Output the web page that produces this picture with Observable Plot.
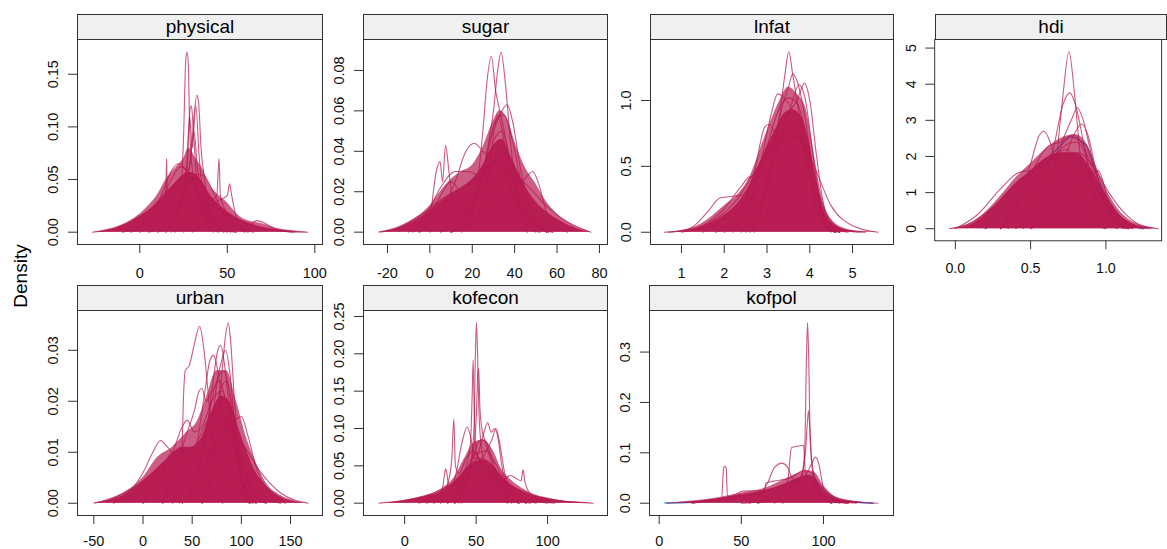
<!DOCTYPE html>
<html><head><meta charset="utf-8">
<script src="https://cdn.jsdelivr.net/npm/d3@7"></script>
<script src="https://cdn.jsdelivr.net/npm/@observablehq/plot@0.6"></script>
<style>
html,body{margin:0;padding:0;background:#fff}
body{overflow:hidden;width:1167px;height:549px;position:relative;font-family:"Liberation Sans",Arial,sans-serif}
.strip{position:absolute;box-sizing:border-box;border:1px solid #333;background:#f0f0f0;font-size:19px;text-align:center;color:#000;display:flex;align-items:center;justify-content:center}
.panel{position:absolute}
#ylab{position:absolute;font-size:19px;left:21px;top:276px;transform:translate(-50%,-50%) rotate(-90deg);white-space:nowrap;color:#000}
</style></head><body>
<div id="ylab">Density</div>
<script>
// ---------- data ----------
const panelNames = ["physical","sugar","lnfat","hdi","urban","kofecon","kofpol"];

const physicalXTicks = [0,50,100];
const physicalXLabels = ["0","50","100"];
const physicalYTicks = [0,0.05,0.10,0.15];
const physicalYLabels = ["0.00","0.05","0.10","0.15"];
const physicalHalo = [[-27,0],[-20,0.002],[-10,0.007],[0,0.017],[5,0.025],[10,0.035],[15,0.05],[20,0.06],[25,0.07],[28,0.08],[32,0.07],[36,0.06],[40,0.045],[45,0.035],[50,0.028],[55,0.018],[60,0.012],[70,0.008],[80,0.003],[90,0.001],[96,0]];
const physicalCore = [[-27,0],[-20,0.001],[-10,0.006],[0,0.015],[6,0.022],[12,0.032],[18,0.043],[24,0.053],[28,0.057],[32,0.055],[36,0.047],[40,0.036],[46,0.025],[54,0.015],[62,0.009],[72,0.004],[82,0.0015],[96,0]];
const physicalCurves = [
 [[-10,0],[0,0.006],[8,0.02],[14,0.042],[18,0.058],[22,0.065],[26,0.06],[30,0.045],[35,0.025],[40,0.01],[48,0.002],[55,0]],
 [[5,0],[15,0.008],[22,0.025],[28,0.045],[33,0.055],[37,0.053],[42,0.038],[48,0.018],[55,0.005],[62,0]],
 [[10,0],[20,0.01],[23,0.03],[25,0.09],[26.3,0.165],[27,0.171],[27.7,0.16],[28.5,0.1],[30,0.06],[33,0.04],[36,0.02],[40,0.005],[45,0]],
 [[15,0],[22,0.02],[26,0.04],[29,0.07],[31,0.11],[32.6,0.13],[33.5,0.125],[35,0.08],[37,0.05],[40,0.02],[45,0.005],[50,0]],
 [[18,0],[24,0.02],[27,0.06],[28.8,0.118],[29.5,0.12],[30.5,0.1],[32,0.06],[34,0.03],[38,0.01],[42,0]],
 [[0,0],[8,0.01],[13,0.02],[14.8,0.03],[15.3,0.07],[15.8,0.03],[18,0.04],[22,0.05],[28,0.06],[31,0.095],[33,0.06],[38,0.03],[45,0.01],[55,0]],
 [[20,0],[28,0.02],[35,0.035],[40,0.03],[44,0.035],[45.3,0.07],[46,0.035],[49,0.02],[55,0.005],[60,0]],
 [[25,0],[35,0.02],[45,0.03],[50,0.035],[51.3,0.046],[52.5,0.035],[55,0.015],[60,0.003],[65,0]],
 [[30,0],[40,0.01],[50,0.012],[58,0.004],[63,0.007],[67,0.011],[71,0.009],[76,0.004],[82,0.001],[88,0]],
 [[-27,0],[-15,0.003],[-5,0.01],[5,0.02],[15,0.028],[25,0.032],[35,0.03],[45,0.022],[55,0.012],[65,0.005],[75,0.002],[85,0.0005],[96,0]],
 [[15,0],[22,0.02],[25,0.035],[27,0.07],[28.5,0.11],[30,0.08],[32,0.12],[34,0.07],[37,0.03],[42,0.008],[48,0]],
 [[-5,0],[5,0.012],[12,0.03],[18,0.05],[23,0.062],[27,0.058],[32,0.04],[38,0.02],[45,0.006],[52,0]]
];

const sugarXTicks = [-20,0,20,40,60,80];
const sugarXLabels = ["-20","0","20","40","60","80"];
const sugarYTicks = [0,0.02,0.04,0.06,0.08];
const sugarYLabels = ["0.00","0.02","0.04","0.06","0.08"];
const sugarHalo = [[-24,0],[-10,0.005],[0,0.013],[5,0.02],[10,0.026],[15,0.03],[20,0.033],[25,0.042],[30,0.055],[33,0.06],[37,0.055],[40,0.045],[45,0.032],[50,0.024],[55,0.015],[60,0.009],[65,0.005],[70,0.002],[76,0]];
const sugarCore = [[-24,0],[-18,0.001],[-10,0.004],[-5,0.007],[0,0.011],[5,0.015],[10,0.019],[15,0.022],[20,0.026],[25,0.033],[30,0.043],[34,0.046],[38,0.038],[42,0.029],[46,0.021],[50,0.015],[55,0.01],[60,0.0065],[65,0.0035],[70,0.0015],[76,0]];
const sugarCurves = [
 [[10,0],[18,0.005],[22,0.02],[25,0.05],[27,0.075],[29,0.087],[31,0.07],[33,0.06],[36,0.045],[40,0.02],[45,0.005],[50,0]],
 [[15,0],[22,0.015],[27,0.04],[30,0.06],[32,0.08],[33.6,0.089],[35.5,0.075],[38,0.045],[42,0.015],[47,0.002],[52,0]],
 [[10,0],[18,0.008],[24,0.025],[30,0.05],[34,0.06],[36.5,0.063],[39,0.055],[43,0.03],[48,0.01],[55,0]],
 [[-5,0],[0,0.008],[3,0.03],[4.8,0.035],[6,0.025],[7.4,0.043],[9,0.03],[11,0.015],[15,0.012],[20,0.018],[25,0.028],[30,0.035],[35,0.03],[40,0.018],[48,0.005],[55,0]],
 [[10,0],[20,0.012],[28,0.03],[33,0.04],[38,0.035],[43,0.025],[46,0.028],[48.5,0.03],[51,0.025],[55,0.01],[60,0.003],[65,0]],
 [[0,0],[5,0.005],[10,0.01],[14,0.008],[18,0.003],[22,0.001],[26,0.01],[29,0.04],[32,0.058],[35,0.045],[38,0.02],[42,0.005],[46,0]],
 [[-8,0],[0,0.008],[5,0.018],[10,0.025],[14,0.02],[18,0.01],[22,0.008],[26,0.02],[30,0.045],[34,0.05],[38,0.035],[43,0.015],[50,0.003],[56,0]],
 [[-24,0],[-15,0.002],[-5,0.008],[5,0.016],[15,0.022],[25,0.028],[35,0.03],[45,0.024],[55,0.013],[65,0.005],[76,0]],
 [[-5,0],[5,0.01],[12,0.025],[17,0.04],[21,0.044],[25,0.04],[30,0.035],[36,0.025],[42,0.012],[50,0.003],[58,0]],
 [[-10,0],[-2,0.008],[5,0.022],[12,0.03],[18,0.03],[24,0.028],[30,0.035],[36,0.032],[42,0.02],[50,0.006],[58,0]],
 [[5,0],[14,0.006],[20,0.015],[26,0.035],[31,0.055],[35,0.058],[39,0.045],[44,0.02],[50,0.005],[56,0]]
];

const lnfatXTicks = [1,2,3,4,5];
const lnfatXLabels = ["1","2","3","4","5"];
const lnfatYTicks = [0,0.5,1.0];
const lnfatYLabels = ["0.0","0.5","1.0"];
const lnfatHalo = [[0.6,0],[1.0,0.01],[1.5,0.07],[2.0,0.2],[2.3,0.28],[2.6,0.42],[2.9,0.68],[3.1,0.85],[3.3,1.0],[3.5,1.1],[3.7,1.05],[3.9,0.95],[4.0,0.8],[4.15,0.5],[4.3,0.25],[4.5,0.1],[4.8,0.03],[5.2,0.005],[5.6,0]];
const lnfatCore = [[0.6,0],[1.0,0.005],[1.4,0.03],[1.8,0.09],[2.2,0.18],[2.5,0.3],[2.8,0.5],[3.0,0.65],[3.2,0.78],[3.4,0.9],[3.6,0.93],[3.8,0.88],[3.95,0.72],[4.1,0.45],[4.25,0.24],[4.4,0.12],[4.6,0.05],[4.9,0.015],[5.3,0.003],[5.6,0]];
const lnfatCurves = [
 [[2.6,0],[2.9,0.2],[3.1,0.5],[3.3,0.9],[3.42,1.2],[3.51,1.37],[3.6,1.2],[3.75,0.9],[3.95,0.55],[4.15,0.2],[4.4,0.03],[4.6,0]],
 [[2.5,0],[2.8,0.15],[3.1,0.55],[3.35,0.95],[3.5,1.1],[3.6,1.2],[3.7,1.15],[3.9,0.85],[4.1,0.4],[4.3,0.1],[4.5,0]],
 [[2.4,0],[2.8,0.2],[3.2,0.6],[3.5,0.9],[3.7,1.0],[3.88,1.13],[4.0,1.0],[4.15,0.6],[4.3,0.25],[4.5,0.05],[4.7,0]],
 [[2.0,0],[2.5,0.15],[2.9,0.6],[3.1,0.9],[3.25,1.05],[3.45,1.0],[3.7,0.85],[3.95,0.5],[4.2,0.15],[4.5,0.01],[4.7,0]],
 [[0.7,0],[1.2,0.03],[1.6,0.15],[1.9,0.26],[2.1,0.27],[2.4,0.28],[2.7,0.4],[3.0,0.6],[3.4,0.75],[3.8,0.72],[4.05,0.5],[4.3,0.2],[4.6,0.05],[5.0,0.005],[5.3,0]],
 [[1.5,0],[2.0,0.1],[2.4,0.15],[2.7,0.05],[2.85,0.02],[3.0,0.15],[3.15,0.35],[3.4,0.42],[3.7,0.43],[3.9,0.44],[4.05,0.35],[4.2,0.15],[4.4,0.03],[4.6,0]],
 [[1.0,0],[1.5,0.05],[2.0,0.18],[2.4,0.35],[2.6,0.42],[2.75,0.4],[3.0,0.55],[3.3,0.8],[3.6,0.85],[3.9,0.75],[4.1,0.45],[4.35,0.12],[4.6,0.02],[4.9,0]],
 [[1.8,0],[2.3,0.1],[2.7,0.45],[2.95,0.8],[3.05,0.82],[3.3,0.7],[3.6,0.75],[3.9,0.6],[4.15,0.25],[4.4,0.05],[4.6,0]],
 [[0.6,0],[1.2,0.02],[1.8,0.1],[2.3,0.25],[2.8,0.5],[3.3,0.7],[3.7,0.72],[4.1,0.5],[4.5,0.2],[5.0,0.05],[5.6,0]],
 [[2.7,0],[3.0,0.3],[3.3,0.7],[3.55,0.95],[3.75,1.12],[3.9,1.0],[4.05,0.65],[4.25,0.2],[4.45,0.02],[4.6,0]],
 [[2.2,0],[2.6,0.2],[3.0,0.65],[3.3,0.95],[3.5,1.02],[3.7,0.98],[3.95,0.7],[4.2,0.25],[4.5,0.03],[4.7,0]]
];

const hdiXTicks = [0,0.5,1.0];
const hdiXLabels = ["0.0","0.5","1.0"];
const hdiYTicks = [0,1,2,3,4,5];
const hdiYLabels = ["0","1","2","3","4","5"];
const hdiHalo = [[-0.04,0],[0.0,0.02],[0.1,0.15],[0.2,0.45],[0.3,0.9],[0.4,1.4],[0.5,1.8],[0.6,2.2],[0.7,2.5],[0.8,2.6],[0.88,2.3],[0.95,1.6],[1.02,0.95],[1.1,0.45],[1.2,0.15],[1.3,0.03],[1.35,0]];
const hdiCore = [[-0.04,0],[0.05,0.04],[0.1,0.1],[0.2,0.38],[0.3,0.8],[0.4,1.25],[0.5,1.6],[0.6,1.95],[0.7,2.1],[0.8,2.1],[0.88,1.8],[0.95,1.3],[1.02,0.8],[1.1,0.35],[1.18,0.13],[1.26,0.04],[1.35,0]];
const hdiObserved = [[0.2,0],[0.3,0.4],[0.4,1.0],[0.5,1.5],[0.6,1.9],[0.7,2.3],[0.77,2.55],[0.82,2.45],[0.87,2.3],[0.92,1.7],[1.0,0.9],[1.1,0.3],[1.2,0.05],[1.25,0]];
const hdiCurves = [
 [[0.5,0],[0.6,0.3],[0.66,1.5],[0.71,3.5],[0.755,4.9],[0.79,3.8],[0.83,2.0],[0.88,0.7],[0.95,0.1],[1.0,0]],
 [[0.4,0],[0.55,0.8],[0.65,2.2],[0.72,3.5],[0.76,3.76],[0.8,3.4],[0.86,2.2],[0.93,0.9],[1.0,0.2],[1.08,0]],
 [[0.45,0],[0.6,1.0],[0.7,2.3],[0.77,3.0],[0.81,3.35],[0.85,3.0],[0.9,2.1],[0.97,0.9],[1.05,0.2],[1.12,0]],
 [[0.3,0],[0.42,0.7],[0.5,1.8],[0.56,2.6],[0.59,2.7],[0.63,2.4],[0.68,1.8],[0.75,2.0],[0.85,1.8],[0.95,1.0],[1.05,0.3],[1.15,0]],
 [[0.3,0],[0.45,0.8],[0.55,1.5],[0.65,2.0],[0.75,2.2],[0.8,1.6],[0.86,0.68],[0.9,1.5],[0.95,1.6],[1.02,0.7],[1.1,0.1],[1.15,0]],
 [[0.35,0],[0.5,0.8],[0.6,1.6],[0.7,2.2],[0.8,2.4],[0.87,2.0],[0.92,0.9],[0.97,0.05],[1.0,0]],
 [[0.0,0],[0.15,0.4],[0.3,1.1],[0.42,1.55],[0.48,1.6],[0.55,1.45],[0.62,1.3],[0.7,1.5],[0.8,1.6],[0.9,1.3],[1.0,0.7],[1.1,0.25],[1.2,0.05],[1.3,0]],
 [[-0.04,0],[0.1,0.15],[0.25,0.6],[0.4,1.2],[0.55,1.7],[0.7,2.0],[0.82,2.1],[0.92,1.7],[1.02,1.0],[1.12,0.45],[1.22,0.12],[1.35,0]],
 [[0.5,0],[0.62,0.9],[0.72,1.9],[0.8,2.7],[0.84,2.9],[0.88,2.6],[0.94,1.5],[1.0,0.6],[1.08,0.1],[1.15,0]],
 [[0.3,0],[0.45,1.0],[0.55,1.9],[0.62,2.3],[0.7,2.4],[0.78,2.6],[0.85,2.3],[0.93,1.4],[1.02,0.5],[1.1,0.1],[1.18,0]]
];

const urbanXTicks = [-50,0,50,100,150];
const urbanXLabels = ["-50","0","50","100","150"];
const urbanYTicks = [0,0.01,0.02,0.03];
const urbanYLabels = ["0.00","0.01","0.02","0.03"];
const urbanHalo = [[-50,0],[-40,0.0005],[-20,0.002],[0,0.005],[15,0.009],[30,0.011],[45,0.014],[55,0.016],[65,0.021],[75,0.026],[85,0.026],[95,0.02],[105,0.013],[115,0.008],[125,0.004],[140,0.0015],[155,0.0004],[168,0]];
const urbanCore = [[-50,0],[-35,0.0005],[-20,0.0015],[-5,0.0035],[10,0.006],[25,0.0088],[40,0.011],[50,0.011],[60,0.013],[70,0.018],[80,0.021],[88,0.02],[95,0.016],[105,0.0105],[115,0.006],[125,0.0035],[140,0.0012],[155,0.0003],[168,0]];
const urbanCurves = [
 [[37,0],[39,0.005],[41,0.02],[43,0.026],[47,0.027],[52,0.031],[57.5,0.0347],[62,0.03],[67,0.02],[72,0.01],[77,0.003],[81,0]],
 [[60,0],[70,0.005],[76,0.015],[80,0.025],[84,0.033],[86.7,0.0354],[89,0.032],[93,0.02],[98,0.008],[105,0.002],[112,0]],
 [[40,0],[55,0.006],[65,0.015],[72,0.025],[76,0.03],[79,0.031],[83,0.027],[88,0.018],[95,0.008],[105,0.002],[115,0]],
 [[30,0],[45,0.006],[55,0.012],[63,0.022],[68,0.028],[71.7,0.029],[76,0.026],[82,0.017],[90,0.008],[100,0.002],[110,0]],
 [[20,0],[35,0.008],[45,0.014],[52,0.018],[57,0.022],[60,0.0225],[64,0.02],[70,0.022],[78,0.024],[86,0.018],[95,0.009],[105,0.003],[115,0]],
 [[40,0],[55,0.004],[65,0.008],[75,0.012],[85,0.015],[95,0.0165],[100,0.017],[107,0.013],[115,0.007],[125,0.003],[135,0.001],[145,0]],
 [[-30,0],[-15,0.002],[0,0.006],[10,0.01],[17.8,0.0123],[25,0.011],[35,0.009],[45,0.009],[55,0.012],[65,0.016],[75,0.018],[85,0.016],[95,0.01],[110,0.004],[125,0.001],[140,0]],
 [[0,0],[15,0.004],[30,0.01],[40,0.01],[50,0.0038],[57,0.006],[65,0.015],[75,0.024],[82,0.026],[90,0.02],[100,0.009],[112,0.002],[125,0]],
 [[-50,0],[-30,0.001],[-10,0.003],[10,0.006],[30,0.009],[50,0.011],[70,0.014],[85,0.015],[100,0.012],[120,0.006],[140,0.002],[168,0]],
 [[0,0],[15,0.005],[30,0.01],[40,0.015],[45,0.0163],[52,0.014],[60,0.015],[70,0.02],[80,0.022],[90,0.016],[100,0.008],[112,0.002],[125,0]],
 [[20,0],[30,0.004],[40,0.007],[50,0.009],[60,0.006],[66,0.002],[70,0.008],[78,0.022],[85,0.024],[92,0.015],[100,0.004],[108,0]],
 [[60,0],[68,0.01],[74,0.022],[80,0.028],[84,0.03],[88,0.026],[94,0.014],[100,0.005],[108,0]]
];

const kofeconXTicks = [0,50,100];
const kofeconXLabels = ["0","50","100"];
const kofeconYTicks = [0,0.05,0.10,0.15,0.20,0.25];
const kofeconYLabels = ["0.00","0.05","0.10","0.15","0.20","0.25"];
const kofeconHalo = [[-18,0],[-10,0.001],[10,0.008],[25,0.018],[35,0.035],[42,0.06],[48,0.08],[55,0.085],[62,0.07],[68,0.045],[75,0.03],[82,0.02],[90,0.012],[100,0.007],[115,0.002],[132,0]];
const kofeconCore = [[-18,0],[-5,0.002],[5,0.005],[15,0.009],[25,0.015],[32,0.024],[38,0.035],[44,0.048],[50,0.056],[56,0.058],[62,0.05],[68,0.036],[75,0.024],[82,0.016],[90,0.01],[100,0.006],[110,0.003],[120,0.0015],[132,0]];
const kofeconCurves = [
 [[35,0],[42,0.02],[46,0.05],[48.5,0.1],[49.5,0.2],[50.2,0.242],[51,0.2],[52,0.12],[54,0.07],[58,0.04],[64,0.015],[72,0]],
 [[30,0],[38,0.02],[43,0.05],[46,0.08],[47.3,0.15],[47.9,0.192],[48.6,0.13],[50,0.07],[53,0.05],[58,0.03],[65,0.01],[75,0]],
 [[35,0],[44,0.04],[48,0.07],[50.2,0.12],[51.2,0.175],[51.8,0.18],[52.6,0.13],[54,0.1],[56,0.085],[60,0.06],[65,0.03],[72,0.01],[80,0]],
 [[15,0],[25,0.01],[30,0.025],[33,0.06],[34.4,0.113],[35.5,0.05],[38,0.04],[43,0.06],[48,0.07],[55,0.05],[62,0.03],[70,0.01],[80,0]],
 [[20,0],[30,0.01],[36,0.04],[40,0.08],[43.7,0.102],[46,0.09],[49,0.06],[53,0.06],[58,0.05],[65,0.03],[75,0.01],[85,0]],
 [[30,0],[40,0.02],[46,0.045],[52,0.07],[55.5,0.095],[58,0.108],[60.5,0.095],[63,0.1],[65,0.09],[68,0.05],[72,0.02],[80,0.005],[88,0]],
 [[35,0],[45,0.02],[52,0.05],[57,0.07],[61,0.085],[64,0.1],[66.5,0.08],[70,0.04],[76,0.015],[85,0]],
 [[10,0],[20,0.008],[26,0.015],[28,0.04],[28.6,0.046],[29.5,0.04],[31,0.02],[38,0.03],[45,0.04],[55,0.045],[65,0.03],[75,0.015],[85,0.006],[100,0]],
 [[40,0],[50,0.02],[60,0.035],[68,0.03],[74,0.037],[78,0.033],[81.5,0.03],[82.8,0.045],[84,0.03],[88,0.012],[95,0.004],[105,0]],
 [[38,0],[44,0.03],[48,0.06],[51,0.08],[54,0.085],[57,0.082],[61,0.06],[66,0.03],[72,0.01],[80,0]],
 [[-18,0],[0,0.004],[15,0.01],[30,0.022],[45,0.035],[55,0.04],[65,0.032],[80,0.018],[95,0.008],[110,0.003],[132,0]],
 [[25,0],[35,0.015],[42,0.04],[47,0.06],[52,0.068],[57,0.07],[63,0.055],[70,0.03],[80,0.01],[92,0]]
];

const kofpolXTicks = [0,50,100];
const kofpolXLabels = ["0","50","100"];
const kofpolYTicks = [0,0.1,0.2,0.3];
const kofpolYLabels = ["0.0","0.1","0.2","0.3"];
const kofpolHalo = [[8,0],[10,0.001],[30,0.008],[50,0.02],[65,0.03],[75,0.045],[85,0.06],[90,0.065],[95,0.06],[100,0.035],[105,0.018],[115,0.005],[133,0]];
const kofpolCore = [[8,0],[20,0.002],[30,0.006],[40,0.011],[50,0.016],[60,0.021],[70,0.03],[78,0.04],[85,0.05],[90,0.055],[94,0.05],[98,0.03],[103,0.016],[110,0.007],[120,0.002],[133,0]];
const kofpolObserved = [[3.6,0.0005],[10,0.001],[20,0.002],[30,0.005],[45,0.012],[60,0.02],[75,0.035],[85,0.05],[92,0.055],[100,0.025],[110,0.006],[125,0.001],[130,0]];
const kofpolCurves = [
 [[75,0],[82,0.02],[86,0.04],[88.5,0.1],[89.7,0.3],[90.3,0.358],[90.9,0.3],[92,0.12],[94,0.05],[98,0.02],[105,0]],
 [[70,0],[80,0.03],[86,0.05],[89,0.1],[90.4,0.17],[90.9,0.184],[91.6,0.15],[93,0.08],[96,0.04],[102,0.01],[110,0]],
 [[60,0],[70,0.02],[78,0.04],[80.5,0.11],[84,0.113],[87.9,0.115],[89,0.06],[92,0.05],[97,0.02],[105,0]],
 [[20,0],[30,0.005],[38,0.01],[39.2,0.07],[39.8,0.0735],[40.8,0.07],[41.5,0.012],[50,0.018],[60,0.022],[70,0.03],[80,0.04],[90,0.05],[98,0.02],[108,0.005],[120,0]],
 [[55,0],[62,0.02],[66,0.04],[70,0.07],[74.7,0.0795],[78,0.072],[81,0.05],[86,0.04],[92,0.04],[98,0.015],[105,0]],
 [[60,0],[75,0.02],[85,0.045],[90,0.06],[93,0.08],[95,0.0914],[97,0.08],[100,0.03],[105,0.01],[115,0]],
 [[20,0],[35,0.008],[45,0.015],[51,0.024],[64,0.025],[65,0.04],[72,0.045],[80,0.05],[88,0.065],[93,0.06],[98,0.03],[105,0.01],[115,0]],
 [[50,0],[70,0.005],[85,0.012],[95,0.01],[105,0.003],[115,0]],
 [[5,0],[20,0.003],[40,0.01],[60,0.02],[75,0.035],[85,0.045],[95,0.04],[105,0.015],[120,0.003],[133,0]]
];

// ---------- layout / style ----------
const RED = "#B61A51", BLUE = "#006CC2";
const FONT = "'Liberation Sans', Arial, sans-serif";
const layout = [
  {name:"physical", left:77, right:322, top:39, bottom:244, pad:14, xd:[-35.6,104.4], yd:[-0.0117,0.183], xt:physicalXTicks, xl:physicalXLabels, yt:physicalYTicks, yl:physicalYLabels, halo:physicalHalo, core:physicalCore, curves:physicalCurves},
  {name:"sugar", left:363, right:607, top:39, bottom:244, pad:14, xd:[-31.3,83.8], yd:[-0.0061,0.0953], xt:sugarXTicks, xl:sugarXLabels, yt:sugarYTicks, yl:sugarYLabels, halo:sugarHalo, core:sugarCore, curves:sugarCurves},
  {name:"lnfat", left:650, right:893, top:39, bottom:244, pad:14, xd:[0.276,5.957], yd:[-0.093,1.463], xt:lnfatXTicks, xl:lnfatXLabels, yt:lnfatYTicks, yl:lnfatYLabels, halo:lnfatHalo, core:lnfatCore, curves:lnfatCurves},
  {name:"hdi", left:935, right:1166, top:39, bottom:244, pad:14, xd:[-0.137,1.37], yd:[-0.334,5.24], xt:hdiXTicks, xl:hdiXLabels, yt:hdiYTicks, yl:hdiYLabels, halo:hdiHalo, core:hdiCore, curves:hdiCurves, obs:hdiObserved},
  {name:"urban", left:77, right:322, top:310, bottom:515, pad:11, xd:[-66.6,182.5], yd:[-0.0024,0.0378], xt:urbanXTicks, xl:urbanXLabels, yt:urbanYTicks, yl:urbanYLabels, halo:urbanHalo, core:urbanCore, curves:urbanCurves},
  {name:"kofecon", left:363, right:607, top:310, bottom:515, pad:11, xd:[-28.8,141.9], yd:[-0.0165,0.258], xt:kofeconXTicks, xl:kofeconXLabels, yt:kofeconYTicks, yl:kofeconYLabels, halo:kofeconHalo, core:kofeconCore, curves:kofeconCurves},
  {name:"kofpol", left:649, right:893, top:310, bottom:515, pad:11, xd:[-5.9,142.6], yd:[-0.0244,0.3825], xt:kofpolXTicks, xl:kofpolXLabels, yt:kofpolYTicks, yl:kofpolYLabels, halo:kofpolHalo, core:kofpolCore, curves:kofpolCurves, obs:kofpolObserved}
];

const ml = 45, mr = 6, mt = 4, mb = 40;
layout.forEach((p, idx) => {
  const W = p.right - p.left, H = p.bottom - p.top;
  const px = d => d[0], py = d => d[1];
  const marks = [];
  if (p.obs) marks.push(Plot.line(p.obs, {x: px, y: py, stroke: BLUE, strokeWidth: 1.6, strokeOpacity: 0.8, curve: "monotone-x"}));
  marks.push(Plot.areaY(p.halo, {x: px, y: py, fill: RED, fillOpacity: 0.7, curve: "monotone-x"}));
  marks.push(Plot.areaY(p.core, {x: px, y: py, fill: RED, fillOpacity: 0.95, curve: "monotone-x"}));
  p.curves.forEach(c => marks.push(Plot.line(c, {x: px, y: py, stroke: RED, strokeOpacity: 0.72, strokeWidth: 1.1, curve: "monotone-x"})));
  marks.push(Plot.frame({stroke: "#333", strokeWidth: 1}));
  marks.push(Plot.axisX(p.xt, {tickSize: 9, tickPadding: p.pad, stroke: "#333", fill: "#111", fontSize: 14.5, tickFormat: d => p.xl[p.xt.indexOf(d)]}));
  marks.push(Plot.axisY(p.yt, {tickSize: 9, stroke: "#333", tickFormat: () => ""}));
  marks.push(Plot.text(p.yt.map((v, i) => ({v, t: p.yl[i]})), {y: "v", text: "t", frameAnchor: "left", dx: -24, rotate: -90, fontSize: 14.5, fill: "#111", textAnchor: "middle", lineAnchor: "middle"}));
  const svg = Plot.plot({
    width: W + ml + mr, height: H + mt + mb,
    marginLeft: ml, marginRight: mr, marginTop: mt, marginBottom: mb,
    x: {domain: p.xd, label: null}, y: {domain: p.yd, label: null},
    style: {fontFamily: FONT, fontSize: "14.5px", background: "transparent", overflow: "visible"},
    marks
  });
  const wrap = document.createElement("div");
  wrap.className = "panel";
  wrap.style.left = (p.left - ml) + "px";
  wrap.style.top = (p.top - mt) + "px";
  wrap.appendChild(svg);
  document.body.appendChild(wrap);
  const strip = document.createElement("div");
  strip.className = "strip";
  strip.textContent = panelNames[idx];
  strip.style.left = p.left + "px";
  strip.style.top = (p.top - 25) + "px";
  strip.style.width = (W + 1) + "px";
  strip.style.height = "26px";
  document.body.appendChild(strip);
});
</script>
</body></html>
